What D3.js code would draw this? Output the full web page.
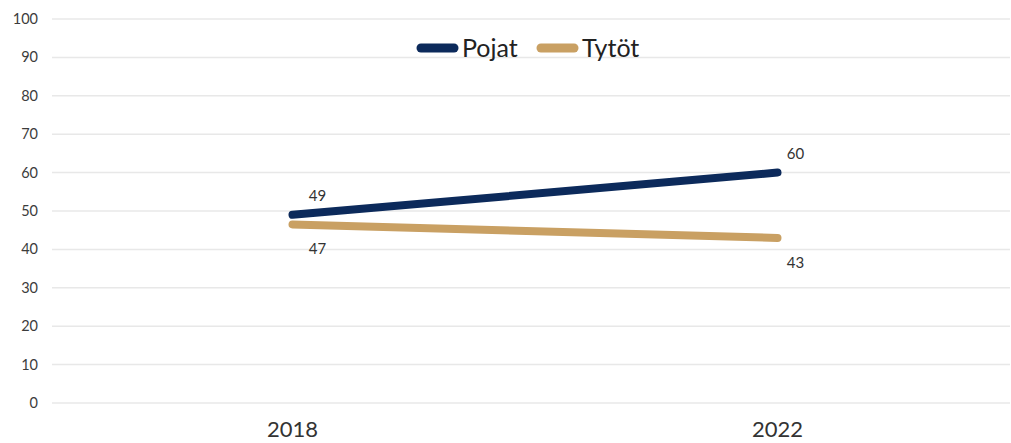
<!DOCTYPE html>
<html>
<head>
<meta charset="utf-8">
<script src="https://cdn.jsdelivr.net/npm/d3@7"></script>
<style>
  body { margin: 0; background: #fff; }
  svg { display: block; font-family: Lato, sans-serif; }
</style>
</head>
<body>
<svg id="chart"></svg>
<script>
const years = ["2018", "2022"];
const pojat = [49, 60];
const tytot = [46.5, 43];
const tytotLabels = [47, 43];
const yTicks = [0, 10, 20, 30, 40, 50, 60, 70, 80, 90, 100];

const width = 1011, height = 443;
const svg = d3.select("#chart").attr("width", width).attr("height", height);

const x = d3.scaleBand().domain(years).range([50, 1020]);
const y = d3.scaleLinear().domain([0, 100]).range([403, 19]);
const cx = d => x(d) + x.bandwidth() / 2;

// gridlines
svg.append("g").selectAll("line")
  .data(yTicks)
  .join("line")
  .attr("x1", 52).attr("x2", 1010)
  .attr("y1", d => y(d)).attr("y2", d => y(d))
  .attr("stroke", "#e8e8e8")
  .attr("stroke-width", 1.5);

// y labels
svg.append("g").selectAll("text")
  .data(yTicks)
  .join("text")
  .attr("x", 38)
  .attr("y", d => y(d))
  .attr("dy", "0.35em")
  .attr("text-anchor", "end")
  .style("font-size", "14.5px")
  .attr("fill", "#3c3c3c")
  .text(d => d);

// x labels
svg.append("g").selectAll("text")
  .data(years)
  .join("text")
  .attr("x", d => cx(d))
  .attr("y", 437)
  .attr("text-anchor", "middle")
  .style("font-size", "22px")
  .attr("fill", "#333")
  .text(d => d);

const series = [
  { name: "Pojat", values: pojat, labels: pojat, color: "#0c2a5b", dy: -14 },
  { name: "Tytöt", values: tytot, labels: tytotLabels, color: "#c9a063", dy: 30 }
];
const labelShift = [25, 18];

const line = d3.line()
  .x((d, i) => cx(years[i]))
  .y(d => y(d));

series.forEach(s => {
  svg.append("path")
    .datum(s.values)
    .attr("d", line)
    .attr("fill", "none")
    .attr("stroke", s.color)
    .attr("stroke-width", 8)
    .attr("stroke-linecap", "round");

  svg.append("g").selectAll("text")
    .data(s.values)
    .join("text")
    .attr("x", (d, i) => cx(years[i]) + labelShift[i])
    .attr("y", d => y(d) + s.dy)
    .attr("text-anchor", "middle")
    .style("font-size", "15px")
    .attr("fill", "#333")
    .text((d, i) => s.labels[i]);
});

// legend
const legend = svg.append("g");
const legendX = [421, 541];
series.forEach((s, i) => {
  const g = legend.append("g").attr("transform", `translate(${legendX[i]},48)`);
  g.append("line")
    .attr("x1", 0).attr("x2", 33)
    .attr("stroke", s.color)
    .attr("stroke-width", 9)
    .attr("stroke-linecap", "round");
  g.append("text")
    .attr("x", 41)
    .attr("dy", "0.35em")
    .style("font-size", "25px")
    .attr("fill", "#222")
    .text(s.name);
});
</script>
</body>
</html>
